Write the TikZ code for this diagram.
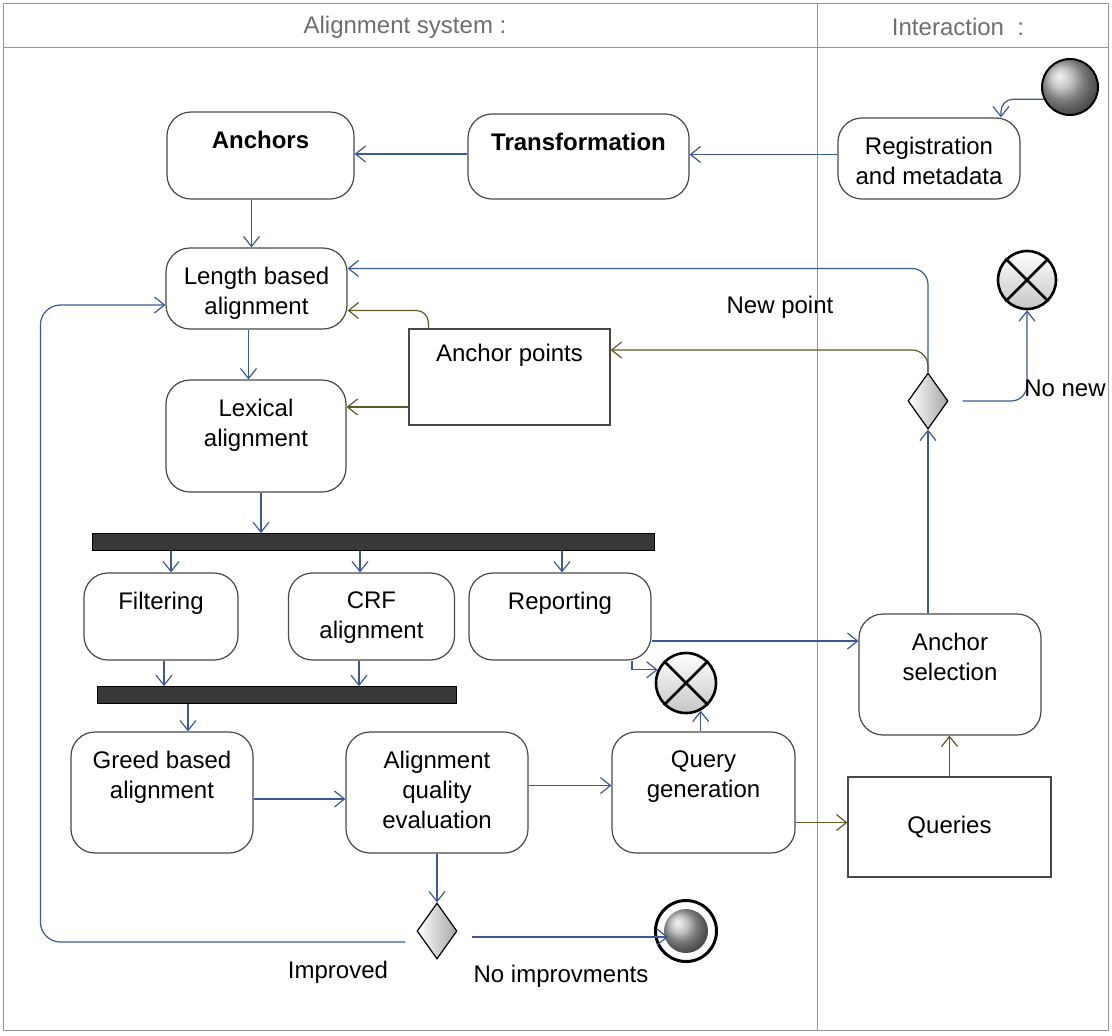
\documentclass[tikz,border=0pt]{standalone}
\usepackage{fontspec}
\setmainfont{Liberation Sans}
\usetikzlibrary{shapes.geometric}
\usetikzlibrary{arrows.meta}
\definecolor{flowblue}{RGB}{62,88,150}
\definecolor{objolive}{RGB}{98,88,38}
\definecolor{boxgray}{RGB}{72,72,72}
\definecolor{lanegray}{RGB}{150,150,150}
\definecolor{headgray}{RGB}{110,110,110}
\tikzstyle{activity}=[draw=boxgray, line width=0.6pt, rounded corners=12pt, inner sep=0pt]
\tikzstyle{objbox}=[draw=boxgray, line width=0.6pt, inner sep=0pt]
\tikzstyle{inlabel}=[anchor=north, inner sep=9.5pt, align=center]
\tikzstyle{bar}=[draw=black, fill=black!78, minimum height=8.5pt, inner sep=0pt]
\tikzstyle{decision}=[diamond, draw=black, line width=0.6pt, left color=white, right color=gray!70, minimum width=20pt, minimum height=28pt, inner sep=0pt]
\tikzstyle{flowend}=[circle, draw=black, line width=1.3pt, top color=white, bottom color=gray!45, minimum size=29pt, inner sep=0pt]
\tikzstyle{flow}=[draw=flowblue, line width=0.6pt, -{Straight Barb[length=5pt, width=8pt]}]
\tikzstyle{oflow}=[flow, draw=objolive]

\begin{document}
\begin{tikzpicture}[x=0.5pt, y=-0.5pt, font=\fontsize{12}{15}\selectfont]
        \useasboundingbox (0,0) rectangle (1112,1035);
        \draw[lanegray] (3,3) rectangle (1108,1030);
        \draw[lanegray] (3,47) -- (1108,47);
        \draw[lanegray] (817,3) -- (817,1030);
        \node[text=headgray] (LaneAlign) at (405,27) {Alignment system :};
        \node[text=headgray] (LaneInter) at (958,27) {Interaction \ :};

        \node[circle, draw=black, line width=1pt, ball color=gray!60, minimum size=28pt, inner sep=0pt] (Start) at (1070,87) {};
        \node[activity, minimum width=93.5pt, minimum height=43.5pt, label={[inlabel]north:\bfseries Anchors}] (Anchors) at (260.5,155.5) {};
        \node[activity, minimum width=110.5pt, minimum height=42.5pt, label={[inlabel]north:\bfseries Transformation}] (Transf) at (578.5,156.5) {};
        \node[activity, minimum width=91pt, minimum height=40.5pt, label={[inlabel]north:Registration\\and metadata}] (Regist) at (929,158.5) {};
        \node[activity, minimum width=90.5pt, minimum height=40.5pt, label={[inlabel]north:Length based\\alignment}] (LenAlign) at (256.5,288.5) {};
        \node[objbox, minimum width=100.5pt, minimum height=48pt, label={[inlabel, inner sep=7.5pt]north:Anchor points}] (AnchPts) at (509.5,377) {};
        \node[activity, minimum width=90pt, minimum height=56pt, label={[inlabel]north:Lexical\\alignment}] (LexAlign) at (256,436) {};
        \node[flowend] (EndA) at (1027,280) {};
        \draw[line width=1.3pt] (EndA.north west) -- (EndA.south east) (EndA.north east) -- (EndA.south west);
        \node[decision] (DecA) at (928,401) {};

        \node[bar, minimum width=281pt] (ForkA) at (373,542) {};
        \node[activity, minimum width=77pt, minimum height=43.5pt, label={[inlabel]north:Filtering}] (Filter) at (161,616.5) {};
        \node[activity, minimum width=83pt, minimum height=43.5pt, label={[inlabel]north:CRF\\alignment}] (CRF) at (371.5,616.5) {};
        \node[activity, minimum width=91pt, minimum height=43.5pt, label={[inlabel]north:Reporting}] (Report) at (560,616.5) {};
        \node[activity, minimum width=91pt, minimum height=60.5pt, label={[inlabel]north:Anchor\\selection}] (AnchSel) at (950,674.5) {};
        \node[bar, minimum width=179.5pt] (JoinB) at (276.5,695) {};
        \node[flowend, minimum size=30pt] (EndB) at (686,683) {};
        \draw[line width=1.3pt] (EndB.north west) -- (EndB.south east) (EndB.north east) -- (EndB.south west);

        \node[activity, minimum width=91pt, minimum height=60.5pt, label={[inlabel]north:Greed based\\alignment}] (Greed) at (162,792.5) {};
        \node[activity, minimum width=91pt, minimum height=60.5pt, label={[inlabel]north:Alignment\\quality\\evaluation}] (QualEval) at (437,792.5) {};
        \node[activity, minimum width=91.5pt, minimum height=60.5pt, label={[inlabel]north:Query\\generation}] (QueryGen) at (703.5,792.5) {};
        \node[objbox, minimum width=101.5pt, minimum height=50pt] (Queries) at (949.5,827) {Queries};
        \node[decision] (DecB) at (437,931) {};
        \node[circle, draw=black, line width=1.5pt, fill=white, minimum size=30.5pt, inner sep=0pt] (Final) at (686,931) {};
        \node[circle, ball color=gray!60, minimum size=22pt, inner sep=0pt] (FinalDot) at (Final) {};

        \draw[flow, rounded corners=6pt] (Start.205) -| ([xshift=36pt]Regist.north);
        \draw[flow] ([yshift=2pt]Regist.west) -- ([yshift=2pt]Regist.west -| Transf.east);
        \draw[flow] ([yshift=1.25pt]Transf.west) -- ([yshift=1.25pt]Transf.west -| Anchors.east);
        \draw[flow] ([xshift=-4.5pt]Anchors.south) -- ([xshift=-4.5pt]Anchors.south |- LenAlign.north);
        \draw[flow] ([xshift=-4pt]LenAlign.south) -- ([xshift=-4pt]LenAlign.south |- LexAlign.north);
        \draw[flow] ([xshift=2.5pt]LexAlign.south) -- ([xshift=2.5pt]LexAlign.south |- ForkA.north);
        \foreach \n/\x in {Filter/171, CRF/360, Report/562}
            \draw[flow] (\x,0 |- ForkA.south) -- (\x,0 |- \n.north);
        \foreach \n/\x in {Filter/164, CRF/359}
            \draw[flow] (\x,0 |- \n.south) -- (\x,0 |- JoinB.north);
        \draw[flow] (188,0 |- JoinB.south) -- (188,0 |- Greed.north);
        \draw[flow] ([yshift=-3.25pt]Greed.east) -- ([yshift=-3.25pt]Greed.east -| QualEval.west);
        \draw[flow] ([yshift=3.5pt]QualEval.east) -- ([yshift=3.5pt]QualEval.east -| QueryGen.west);
        \draw[flow] (EndB.-62 |- QueryGen.north) -- (EndB.-62);
        \draw[flow] ([xshift=36pt]Report.south) |- (EndB.155);
        \draw[flow] ([yshift=-12.25pt]Report.east) -- ([yshift=-12.25pt]Report.east -| AnchSel.west);
        \draw[oflow] ([yshift=-15pt]QueryGen.east) -- ([yshift=-15pt]QueryGen.east -| Queries.west);
        \draw[oflow] (Queries.north) -- (Queries.north |- AnchSel.south);
        \draw[flow] (DecA.south |- AnchSel.north) -- (DecA.south);
        \draw[flow, rounded corners=8pt] ([xshift=7pt]DecA.east) -| (EndA.south);
        \draw[flow, rounded corners=8pt] (DecA.north) |- ([yshift=10pt]LenAlign.east);
        \draw[oflow, rounded corners=8pt] (DecA.north) |- ([yshift=13.5pt]AnchPts.east);
        \draw[oflow, rounded corners=6pt] ([xshift=10pt]AnchPts.north west) |- ([yshift=-11pt]LenAlign.east);
        \draw[oflow] ([yshift=-15pt]AnchPts.west) -- ([yshift=-15pt]AnchPts.west -| LexAlign.east);
        \draw[flow] (DecB.north |- QualEval.south) -- (DecB.north);
        \draw[flow] ([xshift=7pt, yshift=-3pt]DecB.east) -- ([xshift=7pt, yshift=-3pt]DecB.east -| Final.west);
        \draw[flow, rounded corners=10pt] ([xshift=-5.5pt, yshift=-5.5pt]DecB.west) -- ++(-365,0) |- ([yshift=-8.25pt]LenAlign.west);

        \node (LblNewPt) at (780,307) {New point};
        \node (LblNoNew) at (1065,388) {No new};
        \node (LblImpr) at (338,972) {Improved};
        \node (LblNoImpr) at (561,976) {No improvments};
    \end{tikzpicture}
\end{document}
